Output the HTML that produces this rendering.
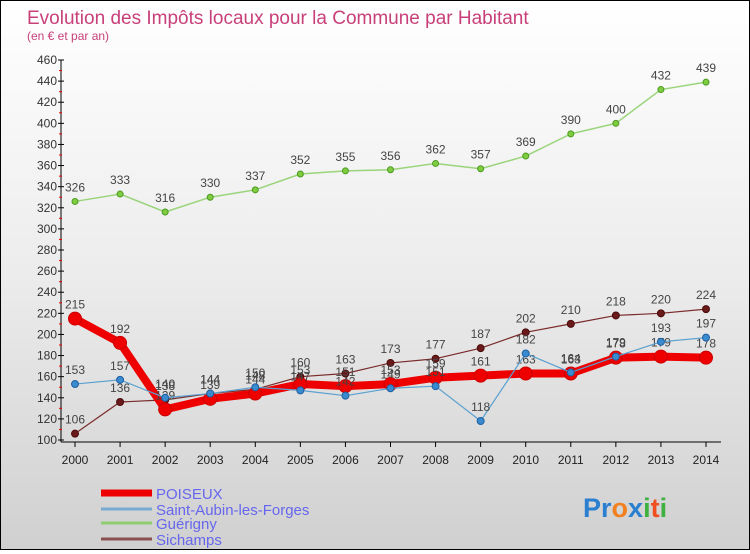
<!DOCTYPE html>
<html><head><meta charset="utf-8">
<style>
html,body{margin:0;padding:0}
body{width:750px;height:550px;overflow:hidden;font-family:"Liberation Sans","DejaVu Sans",sans-serif}
#wrap{position:relative;width:748px;height:548px;border:1px solid #000;background:linear-gradient(#ffffff 0%,#ececec 50%,#d0d0d0 100%)}
</style></head><body>
<div id="wrap">
<svg id="chart" width="748" height="548" xmlns="http://www.w3.org/2000/svg">
<text x="26" y="23" font-size="19" fill="#c8407a">Evolution des Impôts locaux pour la Commune par Habitant</text>
<text x="26" y="39" font-size="12" fill="#c8407a">(en € et par an)</text>
<g id="axes"></g>
<g id="series"></g>
<g id="legend"></g>
<text x="582" y="516" font-size="27" font-weight="bold"><tspan fill="#2a7fd0">Pr</tspan><tspan fill="#f08020">o</tspan><tspan fill="#2a7fd0">x</tspan><tspan fill="#40b040">i</tspan><tspan fill="#f05020">t</tspan><tspan fill="#40b040">i</tspan></text>
</svg>
</div>
<script>
const years = [2000,2001,2002,2003,2004,2005,2006,2007,2008,2009,2010,2011,2012,2013,2014];
const poiseux = [215,192,129,139,144,153,151,153,159,161,163,163,178,179,178];
const saintAubin = [153,157,140,144,150,147,142,149,151,118,182,164,179,193,197];
const guerigny = [326,333,316,330,337,352,355,356,362,357,369,390,400,432,439];
const sichamps = [106,136,138,144,148,160,163,173,177,187,202,210,218,220,224];
const yTicks = [100,120,140,160,180,200,220,240,260,280,300,320,340,360,380,400,420,440,460];

const NS="http://www.w3.org/2000/svg";
const x0=74, x1=705, yMin=100, yMax=460, py0=439, py1=59;
function xs(i){return x0+(x1-x0)*i/(years.length-1);}
function ys(v){return py0-(v-yMin)/(yMax-yMin)*(py0-py1);}
function mk(tag,attrs,parent){const e=document.createElementNS(NS,tag);for(const k in attrs)e.setAttribute(k,attrs[k]);parent.appendChild(e);return e;}

const axes=document.getElementById('axes');
const yAxis=mk('line',{x1:60,y1:py1,x2:60,y2:py0+2,stroke:'#000','stroke-width':1},axes);


const xAxis=mk('line',{x1:60,y1:py0+2,x2:720,y2:py0+2,stroke:'#000','stroke-width':1},axes);


yTicks.forEach(v=>{
  const y=ys(v);
  mk('line',{x1:57,y1:y,x2:63,y2:y,stroke:'#000'},axes);
  const t=mk('text',{x:56,y:y+4,'font-size':12,fill:'#333','text-anchor':'end'},axes);
  t.textContent=v;
  
  
  if(v<yMax){mk('line',{x1:58,y1:ys(v+10),x2:61,y2:ys(v+10),stroke:'#e00'},axes);}
});
years.forEach((yr,i)=>{
  const x=xs(i);
  mk('line',{x1:x,y1:py0+2,x2:x,y2:py0+7,stroke:'#000'},axes);
  const t=mk('text',{x:x,y:py0+24,'font-size':12,fill:'#222','text-anchor':'middle'},axes);
  t.textContent=yr;
  
  
});

const series=document.getElementById('series');
function draw(vals,name,color,width,r,dot,stroke){
  const g=mk('g',{},series);
  
  
  const pl=mk('polyline',{points:vals.map((v,i)=>xs(i)+','+ys(v)).join(' '),fill:'none',stroke:color,'stroke-width':width,'stroke-linejoin':'round'},g);
  
  
  vals.forEach((v,i)=>{
    const c=mk('circle',{cx:xs(i),cy:ys(v),r:r,fill:dot,stroke:stroke,'stroke-width':1},g);
    
    
    const t=mk('text',{x:xs(i),y:ys(v)-10,'font-size':12,fill:'#444','text-anchor':'middle'},g);
    t.textContent=v;
    
    
  });
}
draw(guerigny,'guerigny','#9ad47a',1.5,3,'#80cc40','#4a9a20');
draw(sichamps,'sichamps','#7a2a2a',1.2,3.5,'#6a1a1a','#4a0a0a');
draw(poiseux,'poiseux','#ee0000',8,6.5,'#ee0000','#cc0000');
draw(saintAubin,'saint-aubin','#5aa0d0',1.2,3.5,'#3a8ad0','#2060a0');

const legend=document.getElementById('legend');
const items=[['POISEUX','#ee0000',7],['Saint-Aubin-les-Forges','#7aaad0',3],['Guérigny','#90cc70',3],['Sichamps','#8a5050',3]];
const ly=[492,508,522,538];
items.forEach((it,i)=>{
  const l=mk('line',{x1:100,y1:ly[i],x2:151,y2:ly[i],stroke:it[1],'stroke-width':it[2]},legend);
  
  
  const t=mk('text',{x:155,y:ly[i]+6,'font-size':15,fill:'#6666ee'},legend);
  t.textContent=it[0];
  
  
});
</script>
</body></html>
